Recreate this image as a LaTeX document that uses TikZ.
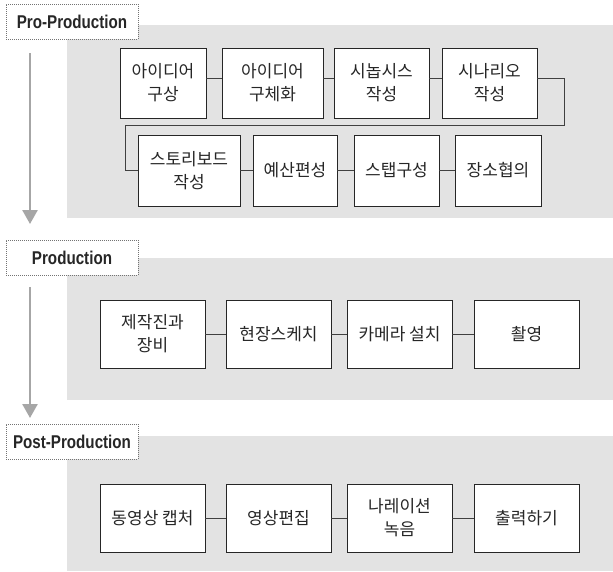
\documentclass[tikz,border=0pt]{standalone}
\usepackage{fontspec}
\newfontfamily\kr{Noto Sans CJK KR}
\newfontfamily\lab[FakeStretch=0.82]{Liberation Sans}
\usetikzlibrary{arrows.meta}
\tikzset{
  band/.style={fill=black!11, draw=none},
  stage/.style={draw=black!55, densely dotted, line width=1pt, fill=white, minimum width=132pt, minimum height=35pt, inner sep=0pt, font=\lab\bfseries\fontsize{18.5}{20}\selectfont, text=black!85},
  task/.style={draw=black!85, line width=0.9pt, fill=white, inner sep=0pt, align=center, font=\kr\fontsize{17}{23}\selectfont, text=black!85},
  link/.style={draw=black!75, line width=0.9pt},
  flow/.style={draw=black!35, line width=2.5pt, -{Triangle[width=15pt,length=14pt]}}
}
\begin{document}
\begin{tikzpicture}[x=1pt,y=-1pt]
\useasboundingbox (0,0) rectangle (613,571);
\fill[white] (0,0) rectangle (613,571);
% bands
\path[band] (67,25) rectangle (613,218);
\path[band] (67,258) rectangle (613,400);
\path[band] (67,436) rectangle (613,571);
% stage labels
\node[stage] (s1) at (72,21.5) {Pro-Production};
\node[stage] (s2) at (72,257.5) {Production};
\node[stage] (s3) at (72,441.5) {Post-Production};
% flow arrows
\coordinate (a1s) at (30,53);
\coordinate (a1e) at (30,224);
\coordinate (a2s) at (30,287);
\coordinate (a2e) at (30,418);
\draw[flow] (a1s) -- (a1e);
\draw[flow] (a2s) -- (a2e);
% row 1
\node[task, minimum width=86pt, minimum height=70pt] (b1) at (163,83) {아이디어\\구상};
\node[task, minimum width=101pt, minimum height=70pt] (b2) at (272.5,83) {아이디어\\구체화};
\node[task, minimum width=95pt, minimum height=70pt] (b3) at (381.5,83) {시놉시스\\작성};
\node[task, minimum width=95pt, minimum height=70pt] (b4) at (489.5,83) {시나리오\\작성};
% row 2
\node[task, minimum width=102pt, minimum height=71pt] (b5) at (189,170.5) {스토리보드\\작성};
\node[task, minimum width=84pt, minimum height=71pt] (b6) at (295,170.5) {예산편성};
\node[task, minimum width=85pt, minimum height=71pt] (b7) at (396.5,170.5) {스탭구성};
\node[task, minimum width=86pt, minimum height=71pt] (b8) at (498,170.5) {장소협의};
% row 3
\node[task, minimum width=105pt, minimum height=68pt] (c1) at (152.5,334) {제작진과\\장비};
\node[task, minimum width=105pt, minimum height=68pt] (c2) at (278.5,334) {현장스케치};
\node[task, minimum width=105pt, minimum height=68pt] (c3) at (399.5,334) {카메라 설치};
\node[task, minimum width=105pt, minimum height=68pt] (c4) at (526.5,334) {촬영};
% row 4
\node[task, minimum width=105pt, minimum height=68pt] (d1) at (152.5,518) {동영상 캡처};
\node[task, minimum width=105pt, minimum height=68pt] (d2) at (278.5,518) {영상편집};
\node[task, minimum width=105pt, minimum height=68pt] (d3) at (399.5,518) {나레이션\\녹음};
\node[task, minimum width=105pt, minimum height=68pt] (d4) at (526.5,518) {출력하기};
% connectors row 1
\draw[link] ([yshift=5pt]b1.east) -- ([yshift=5pt]b2.west);
\draw[link] ([yshift=5pt]b2.east) -- ([yshift=5pt]b3.west);
\draw[link] ([yshift=5pt]b3.east) -- ([yshift=5pt]b4.west);
% loop
\coordinate (l1) at (564,78);
\coordinate (l2) at (564,125);
\coordinate (l3) at (125,125);
\coordinate (l4) at (125,170.5);
\draw[link] ([yshift=5pt]b4.east) -- (l1) -- (l2) -- (l3) -- (l4) -- (b5.west);
% row 2
\draw[link] (b5) -- (b6);
\draw[link] (b6) -- (b7);
\draw[link] (b7) -- (b8);
% row 3
\draw[link] (c1) -- (c2);
\draw[link] (c2) -- (c3);
\draw[link] (c3) -- (c4);
% row 4
\draw[link] (d1) -- (d2);
\draw[link] (d2) -- (d3);
\draw[link] (d3) -- (d4);
\end{tikzpicture}
\end{document}
